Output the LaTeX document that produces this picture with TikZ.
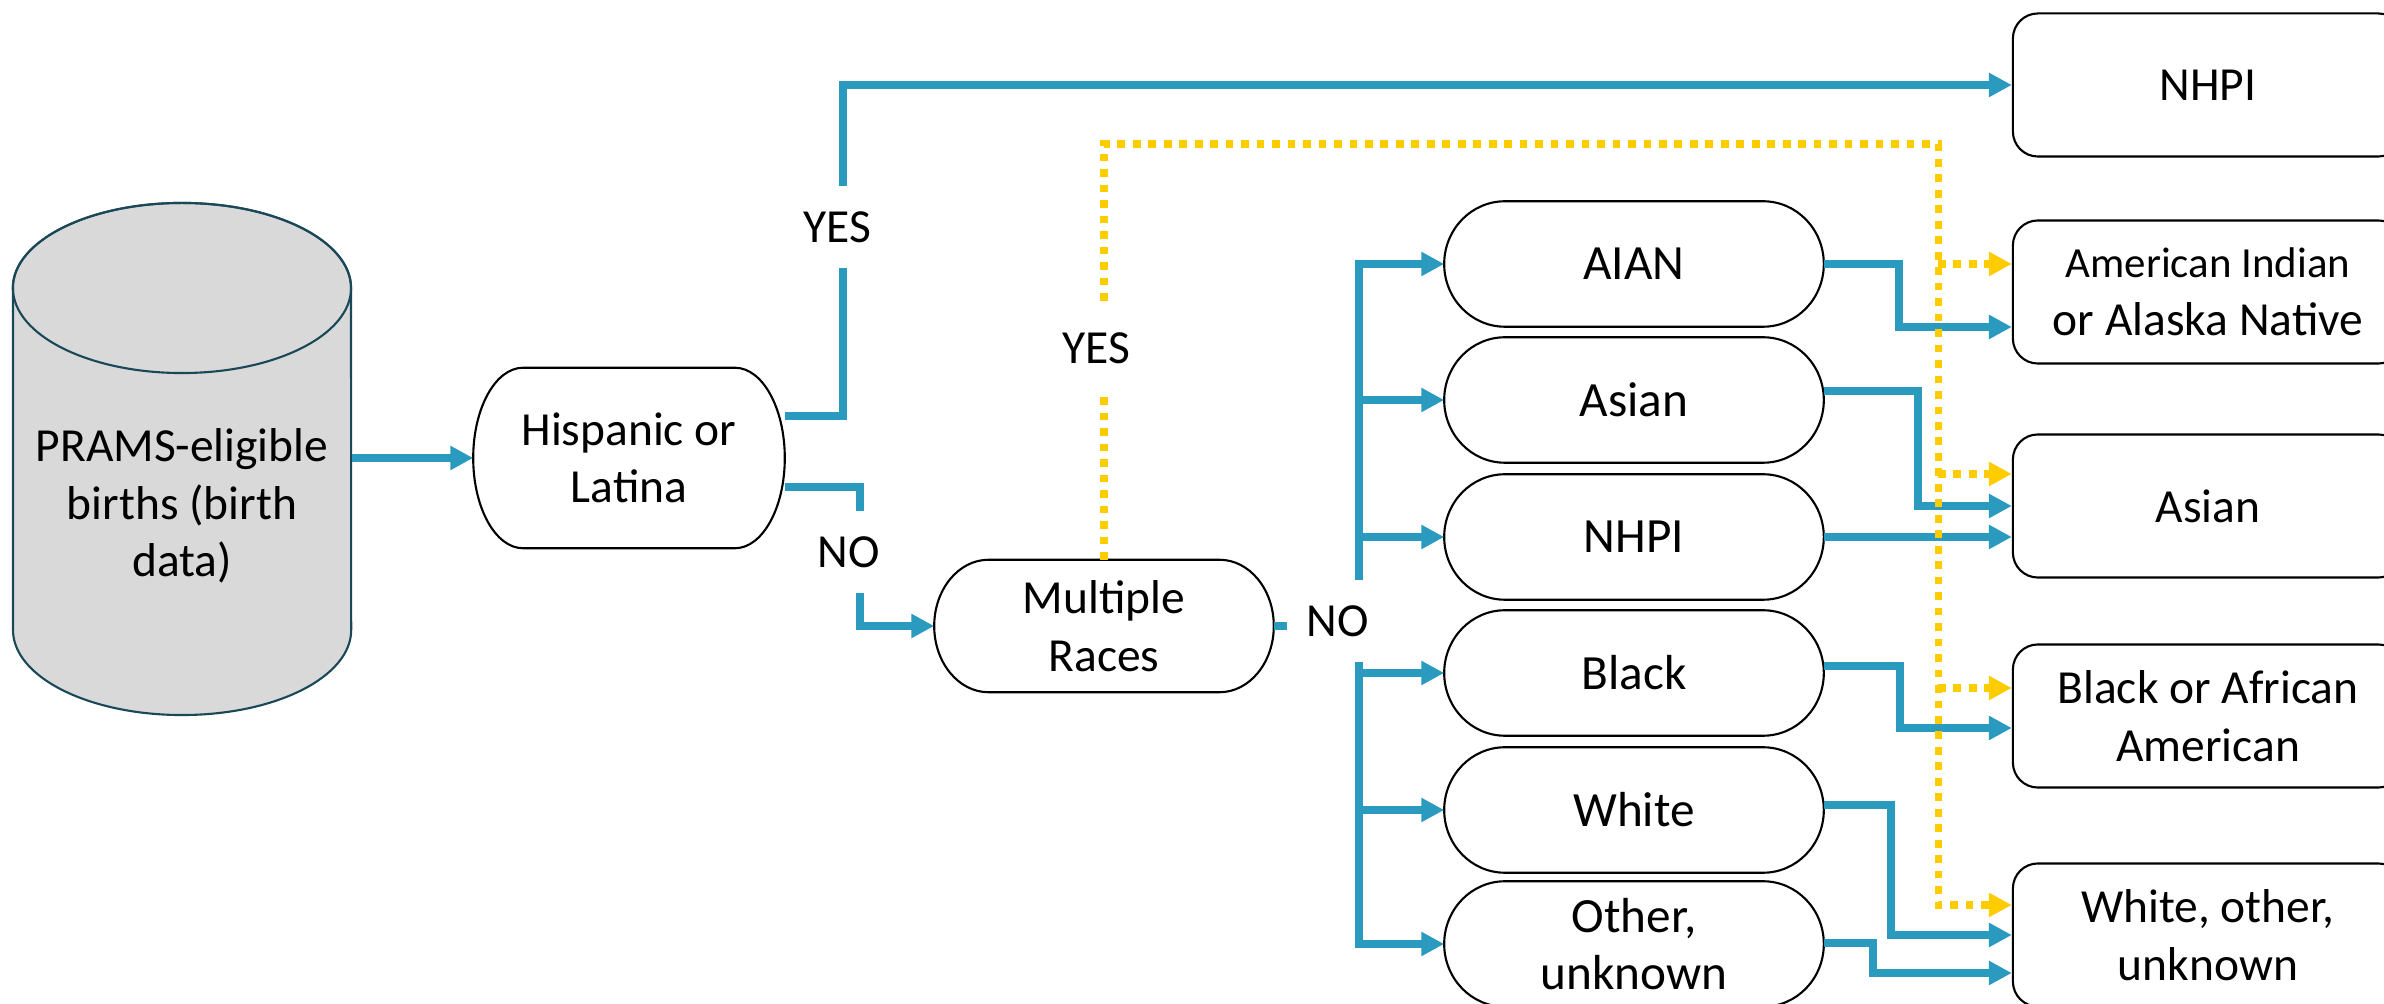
\documentclass[tikz,border=0pt]{standalone}
\usepackage{fontspec}
\setmainfont{Carlito}
\usetikzlibrary{arrows.meta,calc}
\definecolor{flowblue}{RGB}{42,155,190}
\definecolor{flowyellow}{RGB}{255,204,0}
\definecolor{cylgray}{RGB}{217,217,217}
\definecolor{cylrim}{RGB}{26,72,88}
\tikzstyle{terminal}=[rectangle,inner sep=0pt,align=center,font=\fontsize{13.5}{16.4}\selectfont]
\tikzstyle{racebox}=[terminal,minimum width=3.78cm,minimum height=1.24cm,font=\fontsize{14}{16.4}\selectfont]
\tikzstyle{outbox}=[draw,rectangle,rounded corners=0.25cm,line width=0.6pt,minimum width=3.9cm,minimum height=1.43cm,inner sep=0pt,align=center,font=\fontsize{13.5}{16.4}\selectfont]
\tikzstyle{termline}=[draw,line width=0.6pt]
\tikzstyle{flowline}=[draw,flowblue,line width=2.1pt]
\tikzstyle{flow}=[flowline,-{Triangle[length=6.5pt,width=6.5pt]}]
\tikzstyle{dotline}=[draw,flowyellow,line width=2pt,dash pattern=on 2.2pt off 2.2pt]
\tikzstyle{dotflow}=[dotline,-{Triangle[length=6.5pt,width=6.5pt]}]
\tikzstyle{answer}=[inner sep=0pt,minimum height=0.8cm,font=\fontsize{13.5}{16.4}\selectfont]

% outline of a terminator: half ellipses at both ends
\newcommand{\termedge}[1]{%
  \draw[termline] let \p1=(#1.north west), \p2=(#1.south east),
    \n1={0.16*(\x2-\x1)}, \n2={0.5*(\y1-\y2)} in
    (\x1+\n1,\y1) -- (\x2-\n1,\y1)
    arc[start angle=90, end angle=-90, x radius=\n1, y radius=\n2]
    -- (\x1+\n1,\y2)
    arc[start angle=270, end angle=90, x radius=\n1, y radius=\n2] -- cycle;}

\begin{document}
\begin{tikzpicture}[x=0.01cm, y=-0.01cm]

    \useasboundingbox (0,0) rectangle (2384,1004);
    \clip (0,0) rectangle (2384,1004);

    % database
    \filldraw[fill=cylgray, draw=cylrim, line width=0.6pt] (13,288) -- (13,630)
        arc[start angle=180, end angle=360, x radius=1.69cm, y radius=0.85cm]
        -- (351,288)
        arc[start angle=0, end angle=180, x radius=1.69cm, y radius=0.85cm] -- cycle;
    \draw[draw=cylrim, line width=0.6pt] (182,288) ellipse [x radius=1.69cm, y radius=0.85cm];
    \node[terminal, minimum width=3.38cm] (prams) at (182,506) {PRAMS-eligible\\births (birth\\data)};

    % questions
    \node[terminal, minimum width=3.10cm, minimum height=1.79cm] (hisp) at (629,458) {Hispanic or\\Latina};
    \node[terminal, minimum width=3.38cm, minimum height=1.31cm] (multi) at (1104,626) {Multiple\\Races};

    \foreach \y/\name/\txt in {264/aian/AIAN, 400/asian/Asian, 537/nhpi/NHPI, 673/black/Black, 810/white/White, 944/other/{Other,\\unknown}}
        \node[racebox] (\name) at (1634,\y) {\txt};

    \foreach \name in {hisp,multi,aian,asian,nhpi,black,white,other}
        \termedge{\name};

    % final groups
    \foreach \y/\name/\txt in {85/outnhpi/NHPI, 292/outaian/{\fontsize{12.2}{14.6}\selectfont American Indian\\or Alaska Native}, 506/outasian/Asian, 716/outblack/{Black or African\\American}, 935/outwhite/{White, other,\\unknown}}
        \node[outbox] (\name) at (2208,\y) {\txt};

    % yes / no labels
    \node[answer] (yes1) at (837,227) {YES};
    \node[answer] (no1) at (849,552) {NO};
    \node[answer, minimum height=0.93cm] (yes2) at (1096,348) {YES};
    \node[answer] (no2) at (1338,621) {NO};
    \coordinate (bus) at (1359,621);
    \coordinate (ytop) at (1938,144);

    \draw[flow] (prams.east |- hisp.west) -- (hisp.west);
    \draw[flowline] ($(hisp.east)+(0,-42)$) -| ($(yes1.south)+(6,0)$);
    \draw[flow] ($(yes1.north)+(6,0)$) |- (outnhpi.west);
    \draw[flowline] ($(hisp.east)+(0,29)$) -| ($(no1.north)+(11,0)$);
    \draw[flow] ($(no1.south)+(11,0)$) |- (multi.west);

    \draw[flowline] (multi.east) -- ++(13,0);
    \draw[flow] (bus |- no2.north) |- (aian.west);
    \draw[flow] (bus |- no2.south) |- (other.west);
    \foreach \name in {asian,nhpi,black,white}
        \draw[flow] (bus |- \name.west) -- (\name.west);

    \draw[flow] (aian.east) -- ++(75,0) |- ($(outaian.west)+(0,35)$);
    \draw[flow] ($(asian.east)+(0,-9)$) -- ++(94,0) |- (outasian.west);
    \draw[flow] (nhpi.east) -- (nhpi.east -| outasian.west);
    \draw[flow] ($(black.east)+(0,-7)$) -- ++(76,0) |- ($(outblack.west)+(0,12)$);
    \draw[flow] ($(white.east)+(0,-5)$) -- ++(67,0) |- (outwhite.west);
    \draw[flow] ($(other.east)+(0,-1)$) -- ++(49,0) |- ($(outwhite.west)+(0,38)$);

    % multiple races
    \draw[dotline] (multi.north) -- (multi.north |- yes2.south);
    \draw[dotflow] (multi.north |- yes2.north) |- (ytop) |- ($(outwhite.west)+(0,-30)$);
    \foreach \name/\dy in {outaian/-28, outasian/-32, outblack/-28}
    {
        \coordinate (tip) at ($(\name.west)+(0,\dy)$);
        \draw[dotflow] (ytop |- tip) -- (tip);
    }

\end{tikzpicture}
\end{document}
